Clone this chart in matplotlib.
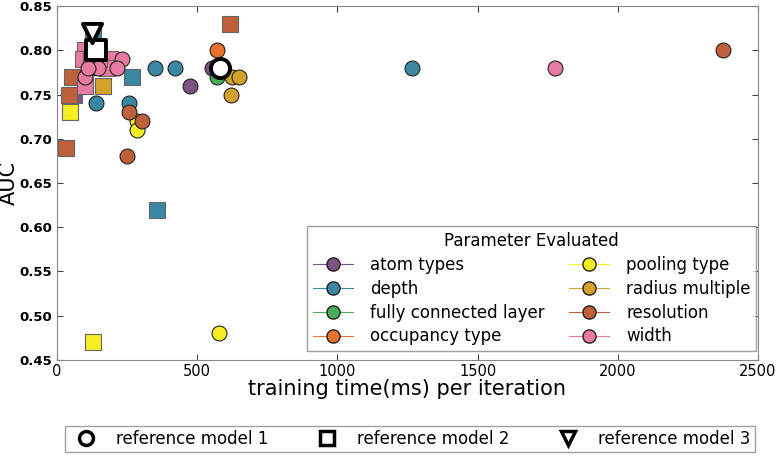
import matplotlib
matplotlib.use("Agg")
import matplotlib.pyplot as plt
from matplotlib.lines import Line2D

categories = ["atom types", "depth", "fully connected layer", "occupancy type",
              "pooling type", "radius multiple", "resolution", "width"]
colors = ["#7a5482", "#3a87a3", "#4aad5b", "#e8712f",
          "#f6ee24", "#d4a12b", "#c0603b", "#e97aa4"]

# circle-marker results per category: (training time ms, AUC)
circle_x = {
    "atom types": [552, 475],
    "depth": [350, 421, 139, 258, 1267],
    "fully connected layer": [570],
    "occupancy type": [570],
    "pooling type": [285, 285, 576],
    "radius multiple": [624, 648, 620],
    "resolution": [258, 302, 251, 2376],
    "width": [231, 213, 124, 146, 100, 1776, 111],
}
circle_y = {
    "atom types": [0.78, 0.76],
    "depth": [0.78, 0.78, 0.74, 0.74, 0.78],
    "fully connected layer": [0.77],
    "occupancy type": [0.80],
    "pooling type": [0.72, 0.71, 0.48],
    "radius multiple": [0.77, 0.77, 0.75],
    "resolution": [0.73, 0.72, 0.68, 0.80],
    "width": [0.79, 0.78, 0.78, 0.78, 0.77, 0.78, 0.78],
}
# square-marker results per category
square_x = {
    "atom types": [62],
    "depth": [267, 356, 128],
    "pooling type": [46, 127],
    "radius multiple": [164, 164],
    "resolution": [618, 52, 44, 32],
    "width": [100, 94, 120, 189, 177, 100, 150],
}
square_y = {
    "atom types": [0.75],
    "depth": [0.77, 0.62, 0.82],
    "pooling type": [0.73, 0.47],
    "radius multiple": [0.79, 0.76],
    "resolution": [0.83, 0.77, 0.75, 0.69],
    "width": [0.80, 0.79, 0.79, 0.79, 0.78, 0.76, 0.79],
}

ref_labels = ["reference model 1", "reference model 2", "reference model 3"]
ref_markers = ["o", "s", "v"]
ref_x = [582, 138, 124]
ref_y = [0.78, 0.80, 0.82]

xticks = [0, 500, 1000, 1500, 2000, 2500]
yticks = [0.45, 0.50, 0.55, 0.60, 0.65, 0.70, 0.75, 0.80, 0.85]

fig = plt.figure(figsize=(7.76, 4.59), dpi=100)
ax = fig.add_axes([57/776, 1-360/459, 701/776, 354/459])

for cat, col in zip(categories, colors):
    if cat in square_x:
        ax.scatter(square_x[cat], square_y[cat], marker="s", s=130, c=col,
                   edgecolors="#666666", linewidths=0.8, zorder=2)
for cat, col in zip(categories, colors):
    ax.scatter(circle_x[cat], circle_y[cat], marker="o", s=115, c=col,
               edgecolors="#222222", linewidths=0.8, zorder=3)

for lab, m, x, y in zip(ref_labels, ref_markers, ref_x, ref_y):
    ax.scatter([x], [y], marker=m, s=190, facecolors="white",
               edgecolors="black", linewidths=2.8, zorder=5)

ax.set_xlim(0, 2500)
ax.set_ylim(0.45, 0.85)
ax.set_xticks(xticks)
ax.set_yticks(yticks)
ax.set_yticklabels([f"{v:.2f}" for v in yticks], fontsize=9.5, fontweight="bold")
ax.set_xticklabels([str(v) for v in xticks], fontsize=10.5)
ax.tick_params(direction="in", top=True, right=True, length=4,
               color="#444444")
ax.tick_params(axis="x", pad=3)
for sp in ax.spines.values():
    sp.set_color("#888888")
ax.set_xlabel("training time(ms) per iteration", fontsize=15, labelpad=0)
ax.set_ylabel("AUC", fontsize=15)
ax.yaxis.set_label_coords(-0.054, 0.5)

handles = [Line2D([0], [0], color=c, marker="o", markersize=9.5,
                  markerfacecolor=c, markeredgecolor="#222222", linewidth=0.8)
           for c in colors]
leg = ax.legend(handles, categories, title="Parameter Evaluated", ncol=2,
                loc="lower right", bbox_to_anchor=(1.0, 0.02), fontsize=12,
                title_fontsize=12, frameon=True, fancybox=False,
                handlelength=2.4, labelspacing=0.35, columnspacing=1.5,
                borderpad=0.35, handletextpad=1.0, borderaxespad=0.1)
leg.get_frame().set_edgecolor("#888888")
leg.get_frame().set_linewidth(1.0)

ref_handles = [Line2D([0], [0], marker=m, linestyle="none", markersize=10,
                      markerfacecolor="white", markeredgecolor="black",
                      markeredgewidth=2.5) for m in ref_markers]
leg2 = fig.legend(ref_handles, ref_labels, ncol=3, loc="lower left",
                  bbox_to_anchor=(65/776, 7/459, 690/776, 25/459),
                  mode="expand", fontsize=12, frameon=True, fancybox=False,
                  borderpad=0.25, handletextpad=0.8, borderaxespad=0)
leg2.get_frame().set_edgecolor("#888888")

fig.savefig("out.png", dpi=100)
